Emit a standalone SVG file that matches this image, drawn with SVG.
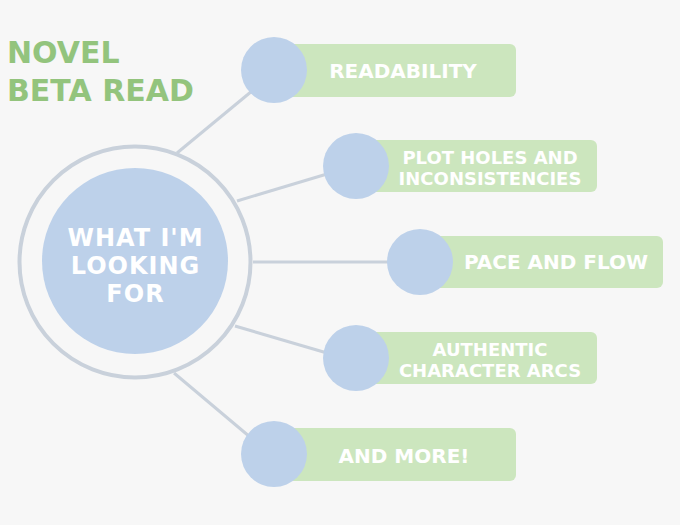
<svg xmlns="http://www.w3.org/2000/svg" width="680" height="525" viewBox="0 0 680 525">
<style>
.bg{fill:#f7f7f7}
.conn{stroke:#c9d1db;stroke-width:3;fill:none}
.bub{fill:#bdd1ea}
.box{fill:#cce6be}
.lbl{font-family:"DejaVu Sans","Liberation Sans",sans-serif;font-weight:bold;fill:#ffffff;text-anchor:middle}
.title{font-family:"DejaVu Sans","Liberation Sans",sans-serif;font-weight:bold;fill:#93c47d;font-size:30px}
.mid{font-size:24px;letter-spacing:1px}
</style>
<rect class="bg" x="0" y="0" width="680" height="525"/>
<g id="title">
<text class="title" x="7" y="63">NOVEL</text>
<text class="title" x="7" y="101">BETA READ</text>
</g>
<g id="connectors">
<line class="conn" x1="177" y1="153" x2="252" y2="91"/>
<line class="conn" x1="237" y1="201" x2="327" y2="174"/>
<line class="conn" x1="253" y1="262" x2="390" y2="262"/>
<line class="conn" x1="235" y1="326" x2="327" y2="353"/>
<line class="conn" x1="174" y1="373" x2="250" y2="437"/>
</g>
<g id="center">
<circle cx="135" cy="262" r="115.5" fill="none" stroke="#c9d1db" stroke-width="4"/>
<circle class="bub" cx="135" cy="261" r="93"/>
<text class="lbl mid" x="135.5" y="246">WHAT I'M</text>
<text class="lbl mid" x="135.5" y="274">LOOKING</text>
<text class="lbl mid" x="135.5" y="302">FOR</text>
</g>
<g id="readability">
<rect class="box" x="274" y="44" width="242" height="53" rx="6"/>
<circle class="bub" cx="274" cy="70" r="33"/>
<text class="lbl" x="403" y="78" font-size="20">READABILITY</text>
</g>
<g id="plotholes">
<rect class="box" x="356" y="140" width="241" height="52" rx="6"/>
<circle class="bub" cx="356" cy="166" r="33"/>
<text class="lbl" x="490" y="164" font-size="18">PLOT HOLES AND</text>
<text class="lbl" x="490" y="185" font-size="18">INCONSISTENCIES</text>
</g>
<g id="pace">
<rect class="box" x="420" y="236" width="243" height="52" rx="6"/>
<circle class="bub" cx="420" cy="262" r="33"/>
<text class="lbl" x="556" y="269" font-size="20">PACE AND FLOW</text>
</g>
<g id="arcs">
<rect class="box" x="356" y="332" width="241" height="52" rx="6"/>
<circle class="bub" cx="356" cy="358" r="33"/>
<text class="lbl" x="490" y="356" font-size="18">AUTHENTIC</text>
<text class="lbl" x="490" y="377" font-size="18">CHARACTER ARCS</text>
</g>
<g id="more">
<rect class="box" x="274" y="428" width="242" height="53" rx="6"/>
<circle class="bub" cx="274" cy="454" r="33"/>
<text class="lbl" x="404" y="463" font-size="20">AND MORE!</text>
</g>
</svg>
